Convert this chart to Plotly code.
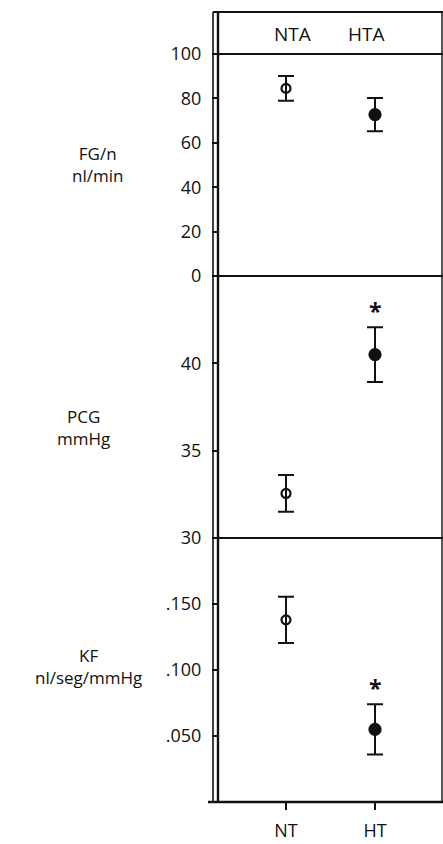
import plotly.graph_objects as go

# ---------------- data ----------------
groups = ["NT", "HT"]
group_x = [0, 1]
header_labels = ["NTA", "HTA"]

fg_mean = [84.5, 72.7]
fg_err = [5.6, 7.5]
pcg_mean = [32.55, 40.5]
pcg_err = [1.05, 1.57]
kf_mean = [0.138, 0.055]
kf_err = [0.0175, 0.019]

fg_ticks = [0, 20, 40, 60, 80, 100]
fg_ticktext = ["0", "20", "40", "60", "80", "100"]
pcg_ticks = [30, 35, 40]
pcg_ticktext = ["30", "35", "40"]
kf_ticks = [0.05, 0.10, 0.15]
kf_ticktext = [".050", ".100", ".150"]

significant = [False, True]  # asterisk over HT in PCG and KF panels

# ---------------- layout helpers ----------------
W, H = 443, 844
def px(x):
    return x / W
def py(y):
    return 1 - y / H

FONT = "Open Sans"
BLACK = "#111111"
FS = 18

left_in, left_out, right = 218, 213, 442
top_hdr, p1_top, p1_bot, p2_bot, p3_bot = 12, 54, 276, 538, 802

fig = go.Figure()

panels = [
    ("y", fg_mean, fg_err, False),
    ("y2", pcg_mean, pcg_err, True),
    ("y3", kf_mean, kf_err, True),
]
for yname, means, errs, star in panels:
    for i in range(2):
        filled = (i == 1)
        fig.add_trace(go.Scatter(
            x=[group_x[i]], y=[means[i]], yaxis=yname, xaxis="x",
            mode="markers",
            marker=dict(symbol="circle" if filled else "circle-open",
                        size=11 if filled else 9,
                        color=BLACK,
                        line=dict(width=2.2, color=BLACK)),
            error_y=dict(type="data", array=[errs[i]], visible=True,
                         color=BLACK, thickness=2, width=8),
            showlegend=False, hoverinfo="skip"))
    if star:
        for i in range(2):
            if significant[i]:
                fig.add_annotation(x=group_x[i], y=means[i] + errs[i],
                                   xref="x", yref=yname, text="<b>*</b>",
                                   showarrow=False, yshift=16,
                                   xanchor="center", yanchor="middle",
                                   font=dict(family=FONT, size=23, color=BLACK))

# x range so that NT at px 286 and HT at px 375
unit = 89.0
x0 = -(286 - left_in) / unit
x1 = 1 + (right - 375) / unit

axis_common = dict(showgrid=False, zeroline=False, showline=False,
                   ticks="outside", ticklen=5, tickwidth=2, tickcolor=BLACK,
                   tickfont=dict(family=FONT, size=FS, color=BLACK),
                   ticklabelstandoff=7, anchor="x", fixedrange=True,
                   automargin=False)

fig.update_layout(
    template="none",
    width=W, height=H, autosize=False,
    margin=dict(l=0, r=0, t=0, b=0, pad=0),
    paper_bgcolor="white", plot_bgcolor="white",
    xaxis=dict(domain=[px(left_in), px(right)], range=[x0, x1],
               tickvals=group_x, ticktext=groups, anchor="y3",
               showgrid=False, zeroline=False, showline=False,
               ticks="outside", ticklen=7, tickwidth=2, tickcolor=BLACK,
               tickfont=dict(family=FONT, size=FS, color=BLACK),
               ticklabelstandoff=5, fixedrange=True, automargin=False),
    yaxis=dict(domain=[py(p1_bot), py(p1_top)], range=[0, 100],
               tickvals=fg_ticks, ticktext=fg_ticktext, **axis_common),
    yaxis2=dict(domain=[py(p2_bot), py(p1_bot)], range=[30, 45],
                tickvals=pcg_ticks, ticktext=pcg_ticktext, **axis_common),
    yaxis3=dict(domain=[py(p3_bot), py(p2_bot)], range=[0, 0.2],
                tickvals=kf_ticks, ticktext=kf_ticktext, **axis_common),
)

shapes = []
def line(x0_, y0_, x1_, y1_, w=2):
    shapes.append(dict(type="line", xref="paper", yref="paper",
                       x0=px(x0_), y0=py(y0_), x1=px(x1_), y1=py(y1_),
                       line=dict(color=BLACK, width=w)))

# double left border
line(left_out, top_hdr, left_out, p3_bot, 1.6)
line(left_in, top_hdr, left_in, p3_bot, 2.4)
# right border
line(right, top_hdr, right, p3_bot, 1.4)
# horizontal lines
line(left_out, top_hdr, W, top_hdr, 2)
for yy in (p1_top, p1_bot, p2_bot):
    line(left_out, yy, W, yy, 2.2)
line(208, p3_bot, W, p3_bot, 2.4)
fig.update_layout(shapes=shapes)

# header labels
for i, lab in enumerate(header_labels):
    fig.add_annotation(x=group_x[i], y=py(34), xref="x", yref="paper",
                       text=lab, showarrow=False, xshift=[6, -9][i],
                       xanchor="center", yanchor="middle",
                       font=dict(family=FONT, size=FS + 1, color=BLACK))

# y-axis titles
titles = [("FG/n<br>nl/min", 97, 164),
          ("PCG<br>mmHg", 83, 427),
          ("KF<br>nl/seg/mmHg", 88, 666)]
for txt, xx, yy in titles:
    fig.add_annotation(x=px(xx), y=py(yy), xref="paper", yref="paper",
                       text=txt, showarrow=False, align="center",
                       xanchor="center", yanchor="middle",
                       font=dict(family=FONT, size=FS - 1, color=BLACK))

fig.write_html("out.html",
               config={"displayModeBar": False, "staticPlot": True},
               post_script="document.body.style.margin='0px';"
                           "document.body.style.overflow='hidden';")
